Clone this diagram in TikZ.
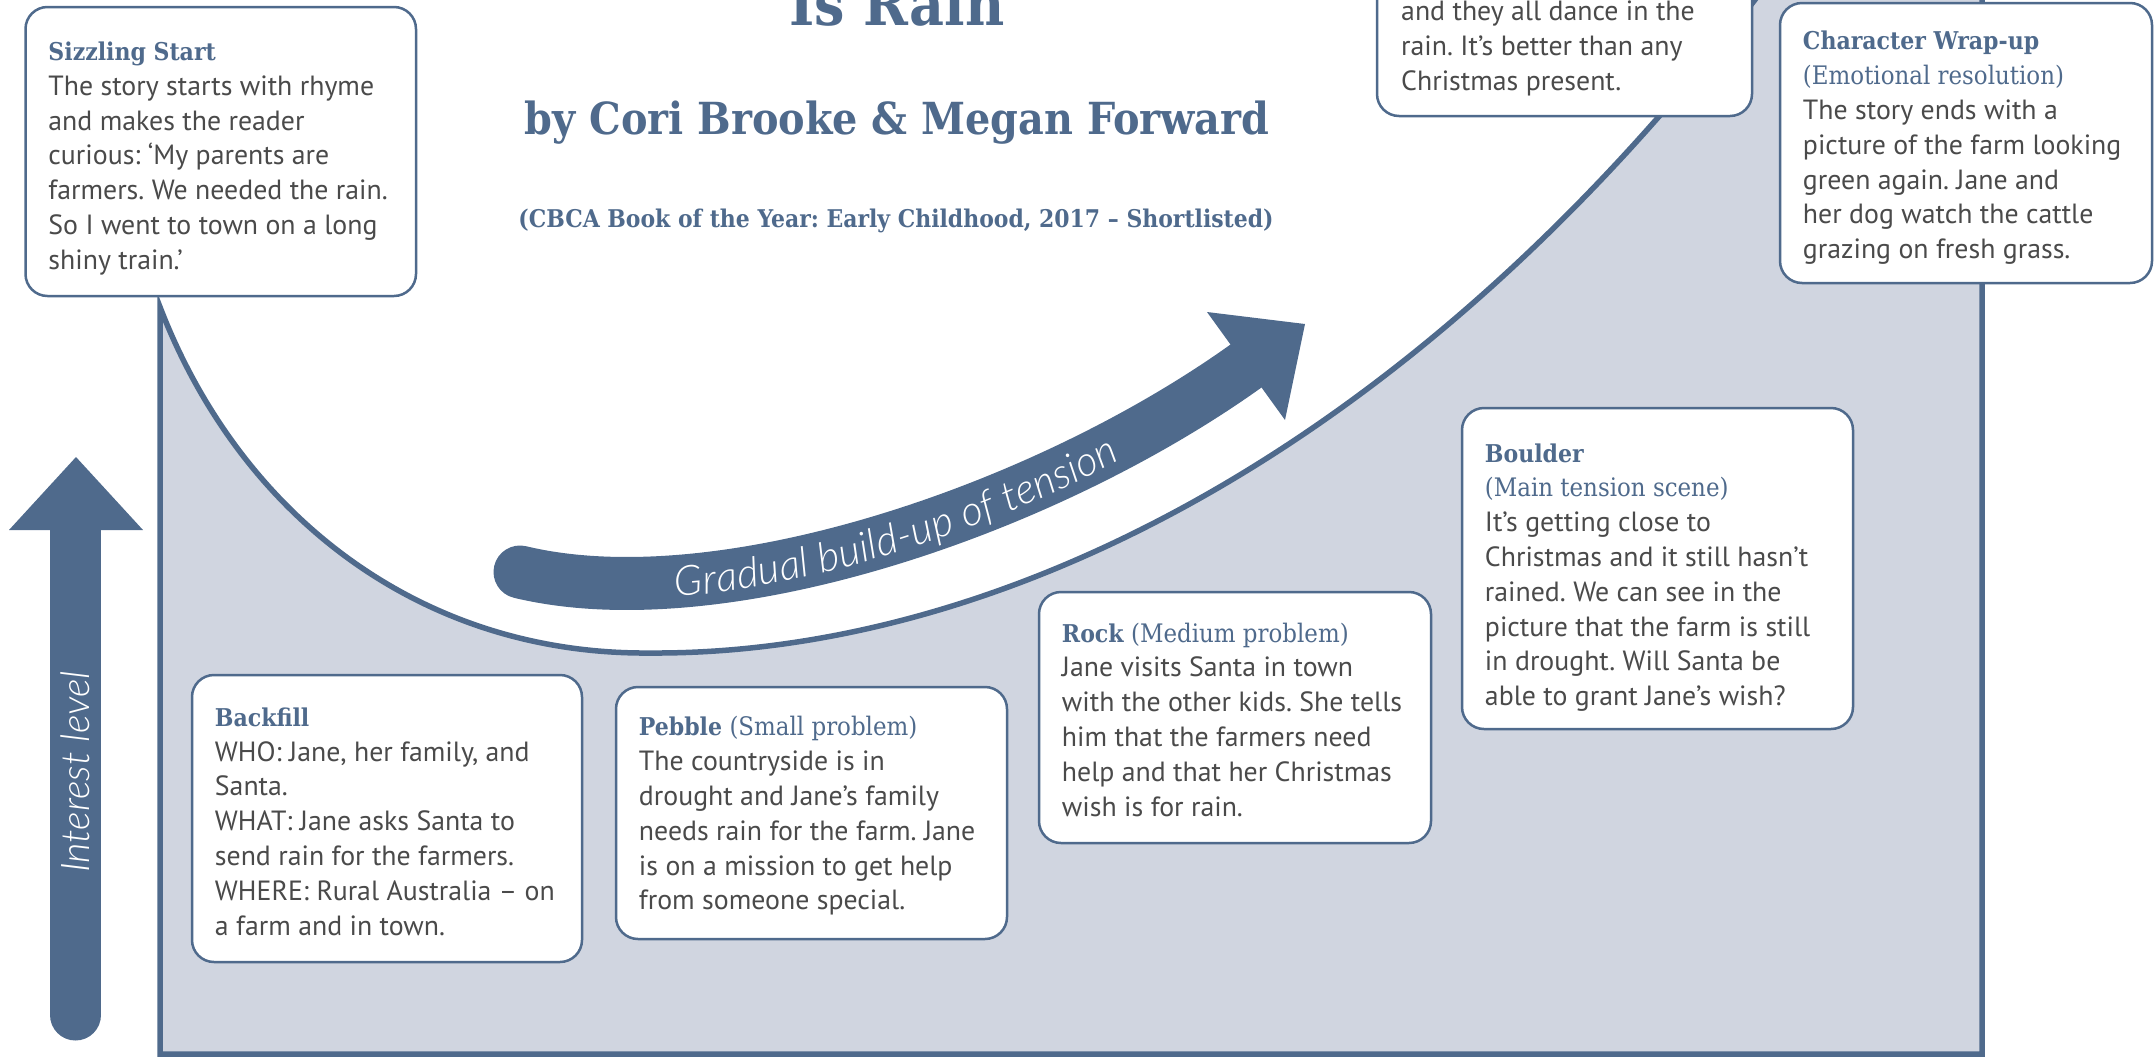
\documentclass[tikz,border=0pt]{standalone}
\usepackage{fontspec}
\setmainfont{PT Sans}
\newfontfamily\slabfont{DejaVu Serif Condensed}
\newfontfamily\latolight{Lato Light Italic}
\usetikzlibrary{decorations.text}
\definecolor{hblue}{RGB}{79,106,140}
\definecolor{shadefill}{RGB}{208,213,224}
\definecolor{bodygray}{RGB}{74,74,74}
\newcommand\cardhead[1]{{\slabfont\bfseries\fontsize{24.5}{34.8}\selectfont\color{hblue}#1}}
\newcommand\cardsub[1]{{\slabfont\fontsize{25.5}{34.8}\selectfont\color{hblue}#1}}
\frenchspacing
\begin{document}
\begin{tikzpicture}[x=1pt,y=-1pt,
  card/.style={draw=hblue, line width=2.5pt, fill=white, rounded corners=22pt, inner sep=0pt},
  cardtext/.style={anchor=west, align=left, inner sep=0pt, font=\frenchspacing\fontsize{27.8}{34.8}\selectfont, text=bodygray},
  titletext/.style={anchor=base, text=hblue, inner sep=0pt},
  axisarrow/.style={hblue, line width=51pt, line cap=round},
  band/.style={hblue, line width=53pt, line cap=round},
  frame/.style={hblue, line width=5.5pt, line join=miter}]
\useasboundingbox (0,0) rectangle (2154,1058);
% shaded area under the curve
\fill[shadefill] (160,307) .. controls (240,515) and (420,655) .. (650,653)
  .. controls (980,655) and (1400,470) .. (1770,-20) -- (1982,-20) -- (1982,1054) -- (160,1054) -- cycle;
\draw[frame] (1982,-20) -- (1982,1054) -- (160,1054) -- (160,307)
  .. controls (240,515) and (420,655) .. (650,653)
  .. controls (980,655) and (1400,470) .. (1770,-20);
% interest level arrow
\coordinate (ilbot) at (75.5,1015);
\coordinate (iltop) at (75.5,528);
\draw[axisarrow] (ilbot) -- (iltop);
\fill[hblue] (9,530) -- (76,457) -- (143,530) -- cycle;
\node[rotate=90, font=\latolight\fontsize{39.5}{40}\selectfont, text=white, inner sep=0pt] (il) at (75,772) {Interest level};
% tension arrow
\coordinate (bs) at (520,572);
\coordinate (be) at (1246,366);
\draw[band] (bs) .. controls (720,620) and (1043,511) .. (be);
\fill[hblue] (1207,312) -- (1305,324) -- (1285,420) -- cycle;
\path[decorate, decoration={text along path, text={|\latolight\fontsize{41.5}{41.5}\selectfont|Gradual build-up of tension}, text color=white, text align=center, raise=-15pt}]
  (bs) .. controls (720,620) and (1043,511) .. (be);
% titles
\node[titletext, font=\slabfont\bfseries\fontsize{60}{70}\selectfont] (title) at (897,25) {Is Rain};
\node[titletext, font=\slabfont\bfseries\fontsize{44.2}{50}\selectfont] (byline) at (897,134) {by Cori Brooke \& Megan Forward};
\node[titletext, font=\frenchspacing\slabfont\bfseries\fontsize{24.4}{28}\selectfont] (cbca) at (896,227) {(CBCA Book of the Year: Early Childhood, 2017 – Shortlisted)};
% cards
\node[card, minimum width=390.5pt, minimum height=289pt] (ss) at (220.75,151.5) {};
\node[cardtext] (sst) at ([xshift=24pt,yshift=-7pt]ss.west) {\cardhead{Sizzling Start}\\The story starts with rhyme\\and makes the reader\\curious: ‘My parents are\\farmers. We needed the rain.\\So I went to town on a long\\shiny train.’};
\node[card, minimum width=375pt, minimum height=216pt] (dance) at (1564.5,8) {};
\node[cardtext] (dancet) at (1401,48.5) {and they all dance in the\\rain. It’s better than any\\Christmas present.};
\node[card, minimum width=372pt, minimum height=280pt] (wrap) at (1966,143) {};
\node[cardtext] (wrapt) at ([xshift=24pt,yshift=-5pt]wrap.west) {\cardhead{Character Wrap-up}\\\cardsub{(Emotional resolution)}\\The story ends with a\\picture of the farm looking\\green again. Jane and\\her dog watch the cattle\\grazing on fresh grass.};
\node[card, minimum width=390pt, minimum height=287pt] (bf) at (387,818.5) {};
\node[cardtext] (bft) at ([xshift=24pt,yshift=-3pt]bf.west) {\cardhead{Backfill}\\WHO: Jane, her family, and\\Santa.\\WHAT: Jane asks Santa to\\send rain for the farmers.\\WHERE: Rural Australia – on\\a farm and in town.};
\node[card, minimum width=391pt, minimum height=252pt] (pb) at (811.5,813) {};
\node[cardtext] (pbt) at ([xshift=24pt,yshift=-3pt]pb.west) {\cardhead{Pebble} \cardsub{(Small problem)}\\The countryside is in\\drought and Jane’s family\\needs rain for the farm. Jane\\is on a mission to get help\\from someone special.};
\node[card, minimum width=392pt, minimum height=251pt] (rk) at (1235,717.5) {};
\node[cardtext] (rkt) at ([xshift=24pt,yshift=-2pt]rk.west) {\cardhead{Rock} \cardsub{(Medium problem)}\\Jane visits Santa in town\\with the other kids. She tells\\him that the farmers need\\help and that her Christmas\\wish is for rain.};
\node[card, minimum width=391pt, minimum height=321pt] (bd) at (1657.5,568.5) {};
\node[cardtext] (bdt) at ([xshift=24pt,yshift=-9pt]bd.west) {\cardhead{Boulder}\\\cardsub{(Main tension scene)}\\It’s getting close to\\Christmas and it still hasn’t\\rained. We can see in the\\picture that the farm is still\\in drought. Will Santa be\\able to grant Jane’s wish?};
\end{tikzpicture}
\end{document}
